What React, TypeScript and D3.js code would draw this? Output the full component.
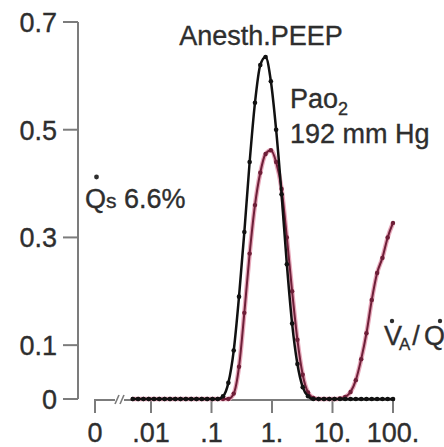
import React from 'react';
import * as d3 from 'd3';

// 50 MIGET compartments (V/Q ratio)
const vqCompartments = [
  0.005, 0.00612, 0.0075, 0.00917, 0.0112, 0.0137, 0.0168, 0.0206, 0.0252, 0.0308,
  0.0377, 0.0462, 0.0565, 0.0692, 0.0847, 0.104, 0.127, 0.155, 0.19, 0.233,
  0.285, 0.349, 0.427, 0.523, 0.64, 0.783, 0.958, 1.17, 1.44, 1.76,
  2.15, 2.63, 3.22, 3.94, 4.82, 5.9, 7.23, 8.85, 10.8, 13.3,
  16.2, 19.9, 24.3, 29.8, 36.4, 44.6, 54.6, 66.8, 81.7, 100,
];

// blood flow (black)
const perfusion = [
  0, 0, 0, 0, 0, 0, 0, 0, 0, 0,
  0, 0, 0, 0, 0, 0, 0, 0.005, 0.03, 0.09,
  0.19, 0.31, 0.44, 0.55, 0.62, 0.635, 0.59, 0.5, 0.38, 0.25,
  0.14, 0.065, 0.022, 0.005, 0, 0, 0, 0, 0, 0,
  0, 0, 0, 0, 0, 0, 0, 0, 0, 0,
];

// ventilation (maroon)
const ventilation = [
  0, 0, 0, 0, 0, 0, 0, 0, 0, 0,
  0, 0, 0, 0, 0, 0, 0, 0, 0, 0.01,
  0.06, 0.16, 0.27, 0.36, 0.42, 0.455, 0.462, 0.44, 0.39, 0.3,
  0.2, 0.11, 0.045, 0.012, 0.002, 0, 0, 0, 0, 0.001,
  0.004, 0.013, 0.035, 0.074, 0.122, 0.184, 0.234, 0.262, 0.3, 0.327,
];

const yTicks = [0, 0.1, 0.3, 0.5, 0.7];
const yTickLabels = ['0', '0.1', '0.3', '0.5', '0.7'];
const xTicks = [0.01, 0.1, 1, 10, 100];
const xTickLabels = ['.01', '.1', '1.', '10.', '100.'];
const shuntText = ['Q', 's', ' 6.6%'];
const titleText = 'Anesth.PEEP';
const paoText = ['Pa', 'o', '2'];
const paoValue = '192 mm Hg';

const W = 444;
const H = 447;
const FONT = '"Liberation Sans", Arial, Helvetica, sans-serif';

export default function App() {
  const x = d3.scaleLog().domain([0.01, 100]).range([151, 393]);
  const y = d3.scaleLinear().domain([0, 0.7]).range([399, 22]);
  const axisX = 78;
  const zeroX = 95;
  const baseY = y(0);

  const line = d3
    .line<number>()
    .x((_, i) => x(vqCompartments[i]))
    .y((d) => y(d))
    .curve(d3.curveMonotoneX);

  const axisColor = '#7c7c7c';
  const textColor = '#2e2e2e';
  const maroon = '#6e1f38';
  const textProps = { fontSize: 27, fill: textColor, stroke: textColor, strokeWidth: 0.35 };

  return (
    <svg
      width={W}
      height={H}
      style={{ position: 'absolute', left: 0, top: 0, background: '#fff' }}
      fontFamily={FONT}
    >
      {/* Y axis */}
      <line x1={axisX} x2={axisX} y1={y(0.7)} y2={y(0)} stroke={axisColor} strokeWidth={2} />
      {yTicks.map((t, i) => (
        <g key={t}>
          <line x1={axisX - 15} x2={axisX} y1={y(t)} y2={y(t)} stroke={axisColor} strokeWidth={2} />
          <text x={57} y={y(t) + 10} textAnchor="end" {...textProps}>
            {yTickLabels[i]}
          </text>
        </g>
      ))}

      {/* X axis with break */}
      <line x1={zeroX} x2={115} y1={baseY + 1} y2={baseY + 1} stroke={axisColor} strokeWidth={2} />
      <line x1={115} x2={119} y1={baseY + 5} y2={baseY - 4} stroke={axisColor} strokeWidth={1.6} />
      <line x1={120} x2={124} y1={baseY + 5} y2={baseY - 4} stroke={axisColor} strokeWidth={1.6} />
      <line x1={124} x2={x(100) + 2} y1={baseY + 1} y2={baseY + 1} stroke={axisColor} strokeWidth={2} />
      <line x1={zeroX} x2={zeroX} y1={baseY} y2={baseY + 14} stroke={axisColor} strokeWidth={2} />
      <text x={zeroX} y={442} textAnchor="middle" {...textProps}>0</text>
      {xTicks.map((t, i) => (
        <g key={t}>
          <line x1={x(t)} x2={x(t)} y1={baseY} y2={baseY + 14} stroke={axisColor} strokeWidth={2} />
          <text x={x(t)} y={442} textAnchor="middle" {...textProps}>
            {xTickLabels[i]}
          </text>
        </g>
      ))}

      {/* ventilation (maroon) */}
      <path d={line(ventilation) || ''} fill="none" stroke="#e7a9bb" strokeWidth={4.5} />
      <path d={line(ventilation) || ''} fill="none" stroke={maroon} strokeWidth={2} />
      {ventilation.map((v, i) => (
        <circle key={'v' + i} cx={x(vqCompartments[i])} cy={y(v)} r={2.2} fill={maroon} />
      ))}

      {/* perfusion (black) */}
      <path d={line(perfusion) || ''} fill="none" stroke="#111" strokeWidth={2.5} />
      {perfusion.map((v, i) => (
        <circle key={'p' + i} cx={x(vqCompartments[i])} cy={y(v)} r={2.3} fill="#111" />
      ))}

      {/* labels */}
      <text x={261} y={45} textAnchor="middle" {...textProps}>{titleText}</text>
      <text x={290} y={108} {...textProps}>
        {paoText[0]}
        <tspan>{paoText[1]}</tspan>
        <tspan fontSize={18} dy={7}>{paoText[2]}</tspan>
      </text>
      <text x={290} y={143} {...textProps}>{paoValue}</text>

      <circle cx={96.5} cy={177} r={2.4} fill={textColor} />
      <text x={85} y={208} {...textProps}>
        {shuntText[0]}
        <tspan fontSize={21}>{shuntText[1]}</tspan>
        <tspan>{shuntText[2]}</tspan>
      </text>

      <circle cx={392} cy={321} r={2.2} fill={textColor} />
      <circle cx={440} cy={321} r={2.2} fill={textColor} />
      <text x={384} y={345} {...textProps}>
        V
        <tspan fontSize={17} dx={-3} dy={5}>A</tspan>
        <tspan dx={2} dy={-5}>/</tspan>
        <tspan dx={4}>Q</tspan>
      </text>
    </svg>
  );
}
